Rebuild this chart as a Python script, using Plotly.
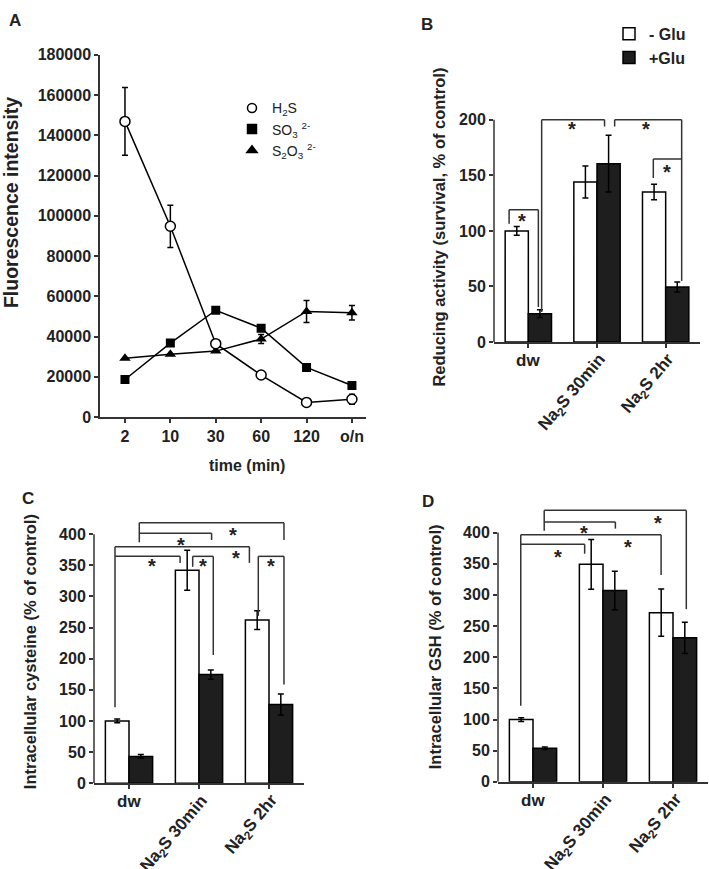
import plotly.graph_objects as go

W, H = 709, 869
FONT = "Arial, Liberation Sans, sans-serif"

# ---------------- Panel A data ----------------
times = ['2', '10', '30', '60', '120', 'o/n']
h2s = [146900, 94800, 36500, 20900, 7300, 8900]
h2s_err = [16800, 10500, 0, 0, 0, 2500]
so3 = [18700, 36800, 53100, 44200, 24700, 15700]
so3_err = [0, 0, 0, 0, 0, 0]
s2o3 = [29200, 31200, 32800, 38800, 52500, 51800]
s2o3_err = [0, 0, 0, 2200, 5500, 3600]
a_yticks = [0, 20000, 40000, 60000, 80000, 100000, 120000, 140000, 160000, 180000]

# ---------------- Bar panels data ----------------
groups = ['dw', 'Na<sub>2</sub>S 30min', 'Na<sub>2</sub>S 2hr']
gpos = [0, 1, 2]

b_minus = [100, 144, 135]
b_minus_err = [4, 14.5, 7]
b_plus = [25.5, 160.5, 49.5]
b_plus_err = [3.5, 25.5, 4.5]

c_minus = [100, 342, 262]
c_minus_err = [3, 32, 15]
c_plus = [43, 174.5, 126.5]
c_plus_err = [3, 7.5, 17]

d_minus = [100, 349, 271.5]
d_minus_err = [3, 40, 38]
d_plus = [54, 307, 231]
d_plus_err = [2, 31, 25]

b_yticks = [0, 50, 100, 150, 200]
cd_yticks = [0, 50, 100, 150, 200, 250, 300, 350, 400]

# significance brackets (x in group units, y in data units)
b_brackets = [
    ([-0.28, -0.28, 0.146, 0.146], [106.5, 119, 119, 31.5]),
    ([0.194, 0.194, 1.11, 1.11], [27, 200, 200, 194]),
    ([1.257, 1.257, 2.233, 2.233], [194, 200, 200, 55]),
    ([1.82, 1.82, 2.233], [147.6, 164.7, 164.7]),
]
b_stars = [(-0.087, 113), (0.64, 195.3), (1.72, 195.3), (2.02, 157.4)]

c_brackets = [
    ([-0.2, -0.2], [122, 380]),
    ([-0.2, 0.73, 0.73], [364.4, 364.4, 353.9]),
    ([-0.2, 1.72, 1.72], [380, 380, 353.9]),
    ([0.147, 0.147, 2.214, 2.214], [387, 418.4, 418.4, 390.6]),
    ([0.147, 1.18, 1.18], [401.6, 401.6, 390.6]),
    ([0.91, 0.91, 1.204, 1.204], [347.6, 364.4, 364.4, 206]),
    ([1.847, 1.847, 2.214, 2.214], [268.8, 364.4, 364.4, 158.5]),
]
c_stars = [(1.49, 405.4), (0.739, 390.6), (1.524, 368.5), (0.324, 356.5), (1.053, 355.4), (2.03, 356.5)]

d_brackets = [
    ([-0.175, -0.175], [122, 396.4]),
    ([-0.175, 0.738, 0.738], [381.2, 381.2, 366]),
    ([-0.175, 1.83, 1.83], [396.4, 396.4, 332]),
    ([0.16, 0.16, 2.19, 2.19], [402.7, 435.7, 435.7, 277]),
    ([0.16, 1.177, 1.177], [416.9, 416.9, 406.3]),
]
d_stars = [(1.78, 422.5), (0.723, 406.8), (1.36, 384.3), (0.36, 368.6)]


def fx(px):
    return px / W


def fy(py):
    return 1 - py / H


fig = go.Figure()

# ---------------- Panel A ----------------
line = dict(color='black', width=1.5)
fig.add_trace(go.Scatter(x=times, y=so3, mode='lines+markers', line=line,
                         marker=dict(symbol='square', size=9, color='black'),
                         error_y=dict(type='data', array=so3_err, color='black', thickness=1.5, width=3),
                         showlegend=False, xaxis='x', yaxis='y'))
fig.add_trace(go.Scatter(x=times, y=s2o3, mode='lines+markers', line=line,
                         marker=dict(symbol='triangle-up', size=10, color='black'),
                         error_y=dict(type='data', array=s2o3_err, color='black', thickness=1.5, width=3),
                         showlegend=False, xaxis='x', yaxis='y'))
fig.add_trace(go.Scatter(x=times, y=h2s, mode='lines+markers', line=line,
                         marker=dict(symbol='circle', size=10, color='white', line=dict(color='black', width=1.5)),
                         error_y=dict(type='data', array=h2s_err, color='black', thickness=1.5, width=3),
                         showlegend=False, xaxis='x', yaxis='y'))
# legend entries for A
for name, sym, col in [('H<sub>2</sub>S', 'circle', 'white'),
                       ('SO<sub>3</sub> <sup>2-</sup>', 'square', 'black'),
                       ('S<sub>2</sub>O<sub>3</sub> <sup>2-</sup>', 'triangle-up', 'black')]:
    fig.add_trace(go.Scatter(x=[None], y=[None], mode='markers', name=name,
                             marker=dict(symbol=sym, size=9, color=col, line=dict(color='black', width=1.5)),
                             legend='legend', xaxis='x', yaxis='y'))

# ---------------- Bar panels ----------------
panels = [
    ('x2', 'y2', b_minus, b_minus_err, b_plus, b_plus_err, True),
    ('x3', 'y3', c_minus, c_minus_err, c_plus, c_plus_err, False),
    ('x4', 'y4', d_minus, d_minus_err, d_plus, d_plus_err, False),
]
for xa, ya, mv, me, pv, pe, leg in panels:
    fig.add_trace(go.Bar(x=gpos, y=mv, name='- Glu', offsetgroup='m',
                         marker=dict(color='white', line=dict(color='black', width=1.5)),
                         error_y=dict(type='data', array=me, color='black', thickness=1.5, width=3),
                         showlegend=leg, legend='legend2', xaxis=xa, yaxis=ya))
    fig.add_trace(go.Bar(x=gpos, y=pv, name='+Glu', offsetgroup='p',
                         marker=dict(color='#1e1e1e', line=dict(color='black', width=1.5)),
                         error_y=dict(type='data', array=pe, color='black', thickness=1.5, width=3),
                         showlegend=leg, legend='legend2', xaxis=xa, yaxis=ya))

tickfont = dict(family=FONT, size=16, color='#222', weight='bold')
catfont = dict(family=FONT, size=17, color='#222', weight='bold')
common_ax = dict(showgrid=False, zeroline=False, ticks='outside', ticklen=4, tickwidth=1.5,
                 tickcolor='#333', linecolor='#333', linewidth=1.5, tickfont=tickfont)

layout = dict(
    width=W, height=H, autosize=False,
    margin=dict(l=0, r=0, t=0, b=0),
    paper_bgcolor='white', plot_bgcolor='white',
    barmode='group', bargap=0.325, bargroupgap=0,
    font=dict(family=FONT, color='#222'),
    xaxis=dict(common_ax, domain=[fx(100), fx(366)], type='category', range=[-0.55, 5.31],
               showline=True, anchor='y'),
    yaxis=dict(common_ax, domain=[fy(417.3), fy(47.7)], range=[0, 180000], tickvals=a_yticks,
               tickformat='d', showline=True, anchor='x'),
    xaxis2=dict(common_ax, domain=[fx(494), fx(700)], range=[-0.5, 2.5], tickvals=gpos,
                showticklabels=False, showline=True, anchor='y2'),
    yaxis2=dict(common_ax, domain=[fy(340.7), fy(110.6)], range=[0, 203], tickvals=b_yticks,
                showline=False, anchor='x2'),
    xaxis3=dict(common_ax, domain=[fx(94), fx(304)], range=[-0.5, 2.5], tickvals=gpos,
                showticklabels=False, showline=True, anchor='y3'),
    yaxis3=dict(common_ax, domain=[fy(790.7), fy(508.1)], range=[0, 445], tickvals=cd_yticks,
                showline=False, anchor='x3'),
    xaxis4=dict(common_ax, domain=[fx(498), fx(708)], range=[-0.5, 2.5], tickvals=gpos,
                showticklabels=False, showline=True, anchor='y4'),
    yaxis4=dict(common_ax, domain=[fy(789.3), fy(506.4)], range=[0, 445], tickvals=cd_yticks,
                showline=False, anchor='x4'),
    legend=dict(x=fx(232), y=fy(86), xanchor='left', yanchor='top', bgcolor='rgba(0,0,0,0)',
                font=dict(family=FONT, size=14, color='#222'), tracegroupgap=0),
    legend2=dict(x=fx(609), y=fy(9), xanchor='left', yanchor='top', bgcolor='rgba(0,0,0,0)',
                 font=dict(family=FONT, size=16, color='#222', weight='bold'), tracegroupgap=0),
)
fig.update_layout(**layout)

shapes = []
annotations = []
# y-axis lines of bar panels (only up to top tick)
for xa, ya, top in [('x2', 'y2', 200), ('x3', 'y3', 400), ('x4', 'y4', 400)]:
    shapes.append(dict(type='line', xref=xa + ' domain', yref=ya, x0=0, x1=0, y0=0, y1=top,
                       line=dict(color='#333', width=1.5)))

for xa, ya, brs, stars in [('x2', 'y2', b_brackets, b_stars), ('x3', 'y3', c_brackets, c_stars),
                           ('x4', 'y4', d_brackets, d_stars)]:
    for xs, ys in brs:
        for i in range(len(xs) - 1):
            shapes.append(dict(type='line', xref=xa, yref=ya, x0=xs[i], x1=xs[i + 1], y0=ys[i], y1=ys[i + 1],
                               line=dict(color='#333', width=1.5)))
    for sx, sy in stars:
        annotations.append(dict(x=sx, y=sy, xref=xa, yref=ya, text='*', showarrow=False,
                                xanchor='center', yanchor='middle', yshift=-4.5,
                                font=dict(family=FONT, size=20, color='#222', weight='bold')))
    # category labels
    for i, g in enumerate(groups):
        if i == 0:
            annotations.append(dict(x=gpos[i], y=0, xref=xa, yref=ya, text=g, showarrow=False,
                                    xanchor='center', yanchor='top', yshift=-7, font=catfont))
        else:
            annotations.append(dict(x=gpos[i] + 0.25, y=0, xref=xa, yref=ya, text=g, showarrow=False,
                                    xanchor='right', yanchor='top', yshift=-5, textangle=-50, font=catfont))

titlefont = dict(family=FONT, size=16.5, color='#222', weight='bold')
annotations += [
    dict(x=fx(11), y=fy(199), text='Fluorescence intensity', textangle=-90,
         font=dict(family=FONT, size=19.5, color='#222', weight='bold')),
    dict(x=fx(247), y=fy(467), text='time (min)',
         font=dict(family=FONT, size=16, color='#222', weight='bold')),
    dict(x=fx(439), y=fy(224), text='Reducing activity (survival, % of control)',
         textangle=-90, font=titlefont),
    dict(x=fx(30), y=fy(657), text='Intracellular cysteine (% of control)',
         textangle=-90, font=titlefont),
    dict(x=fx(435), y=fy(652), text='Intracellular GSH (% of control)',
         textangle=-90, font=titlefont),
]
for lab, px, py in [('A', 15, 13), ('B', 427, 17), ('C', 28, 500), ('D', 428, 503)]:
    annotations.append(dict(x=fx(px), y=fy(py), text=lab,
                            font=dict(family=FONT, size=17, color='#222', weight='bold')))
for a in annotations[-9:]:
    a.update(xref='paper', yref='paper', showarrow=False, xanchor='center', yanchor='middle')

fig.update_layout(shapes=shapes, annotations=annotations)
fig.write_html("out.html", config={'displayModeBar': False},
               post_script="document.body.style.margin='0';document.body.style.overflow='hidden';")
